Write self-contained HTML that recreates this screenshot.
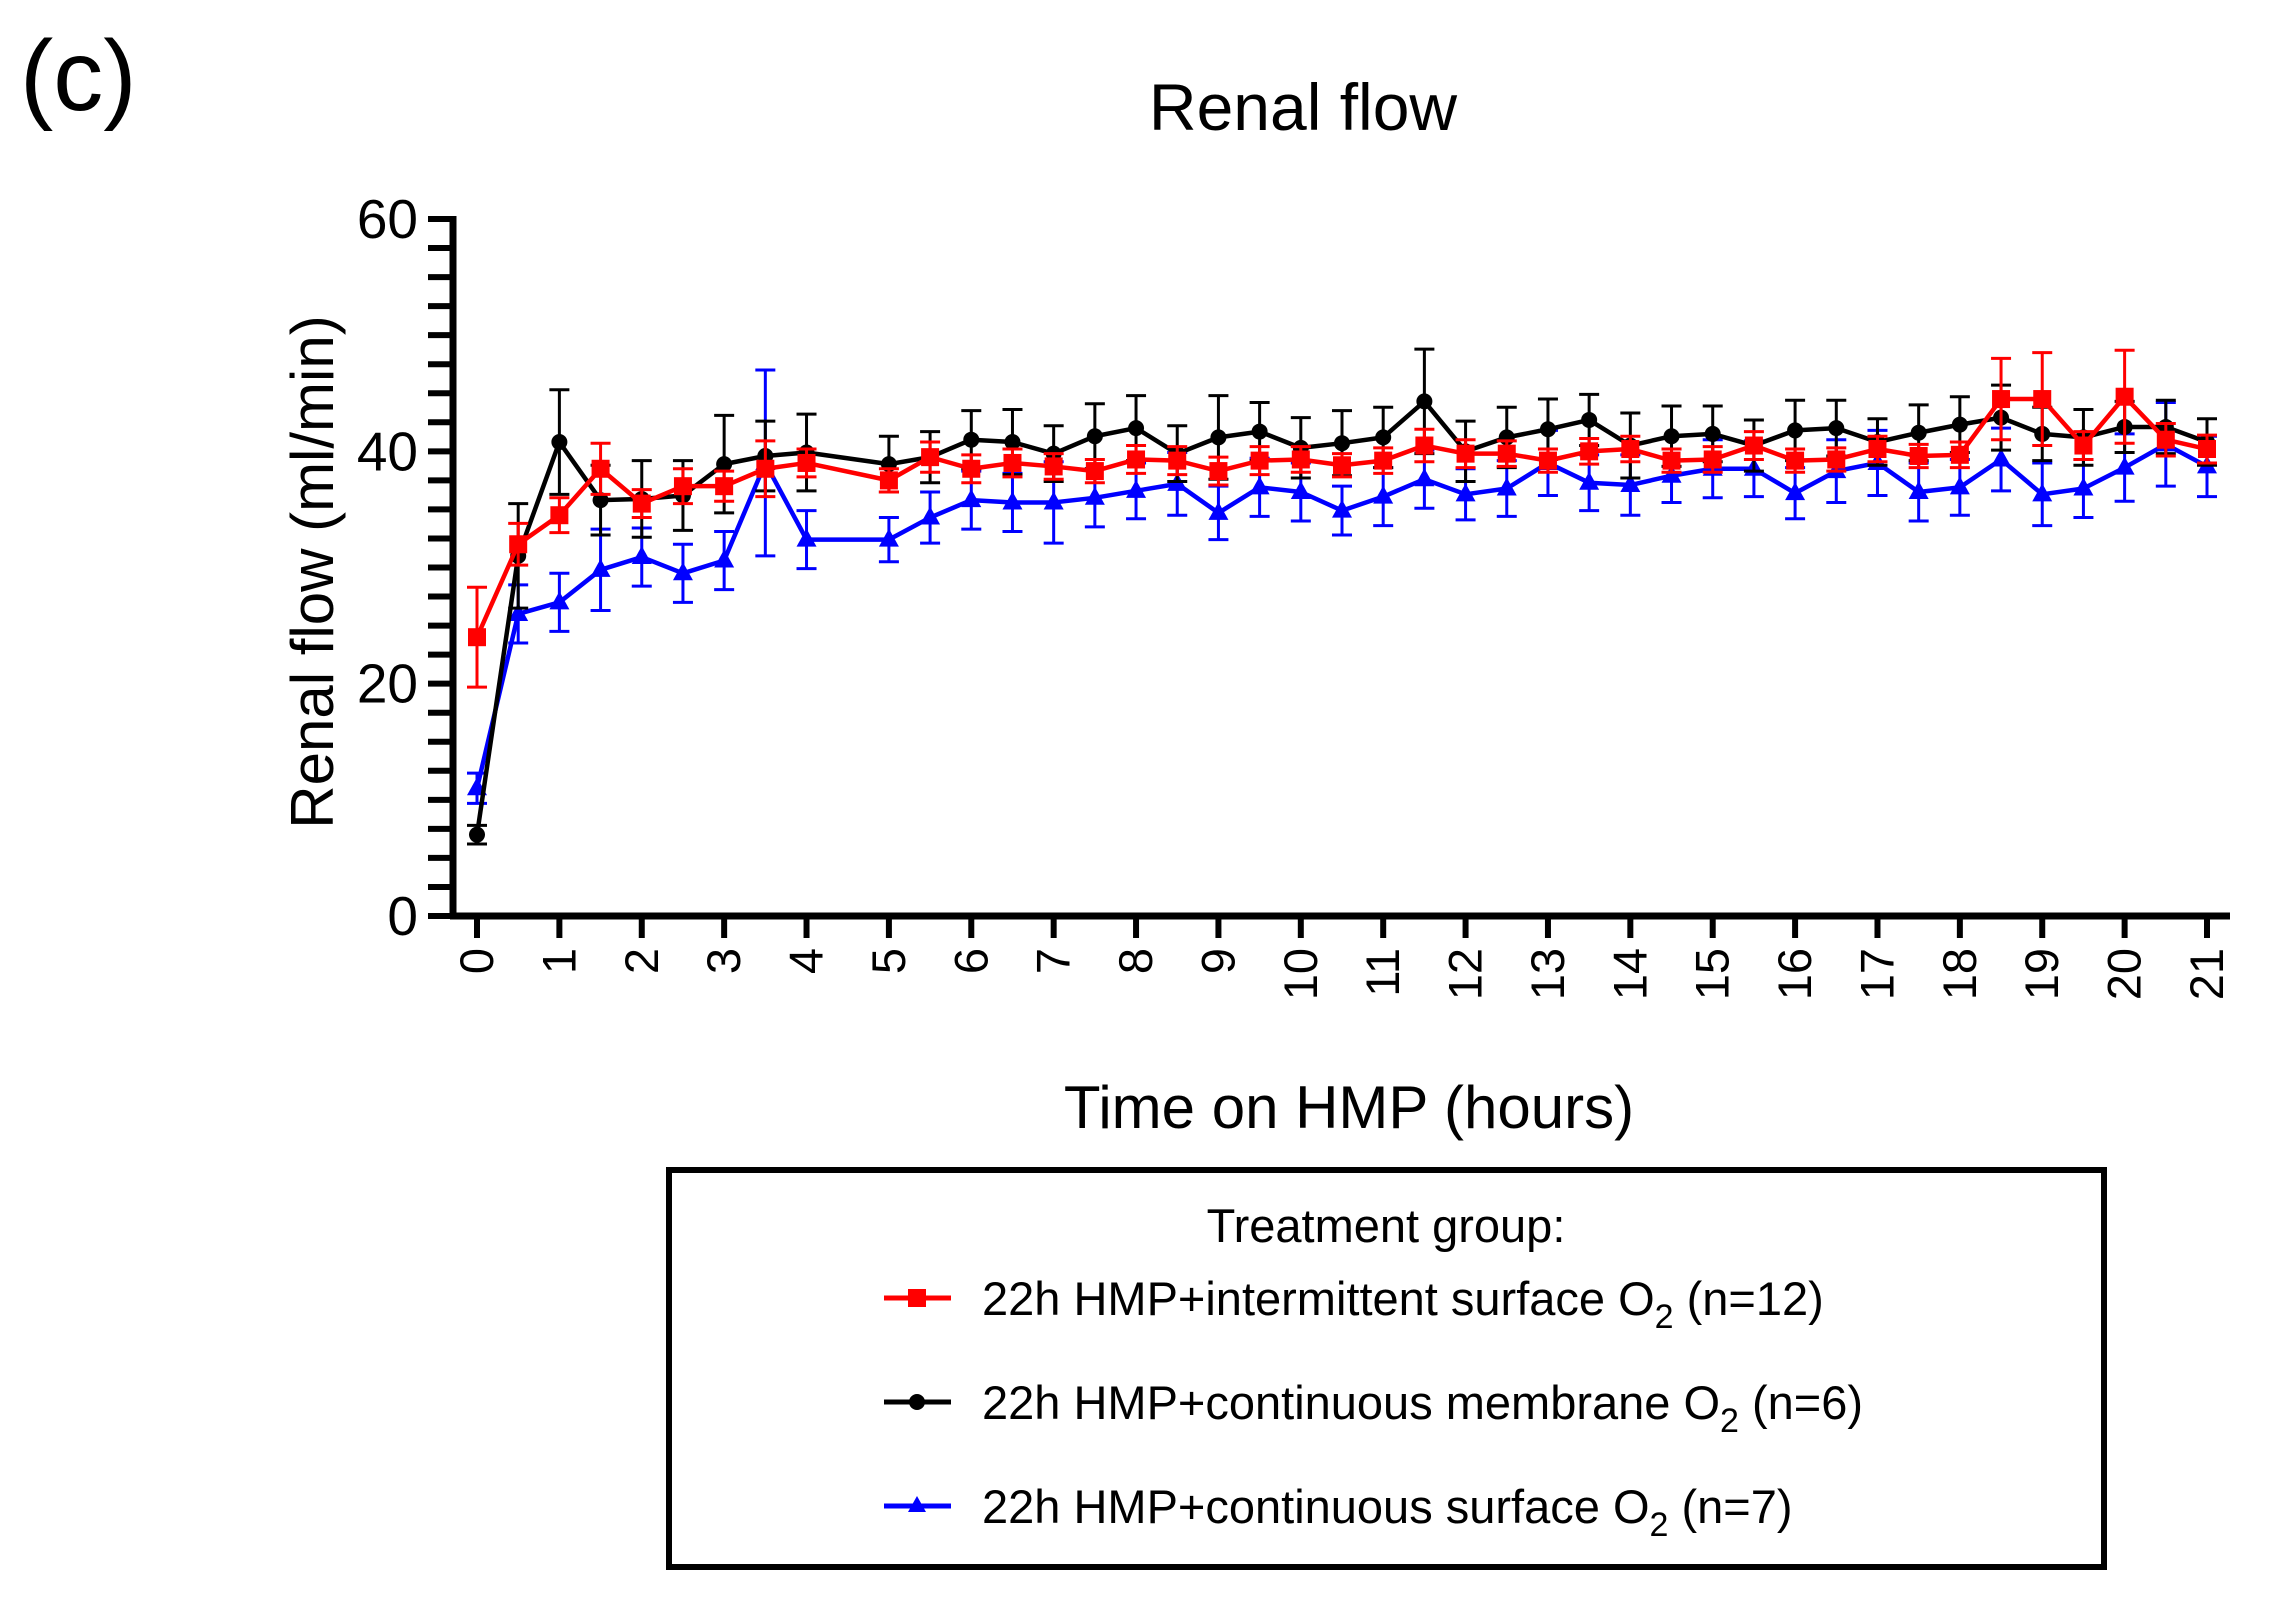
<!DOCTYPE html>
<html><head><meta charset="utf-8"><style>
html,body{margin:0;padding:0;background:#fff;}
svg{display:block;font-family:"Liberation Sans",Arial,sans-serif;}
</style></head><body>
<svg id="chart" width="2275" height="1610" viewBox="0 0 2275 1610">
<text x="20" y="110" font-size="100">(c)</text>
<text x="1303" y="130" font-size="66" text-anchor="middle">Renal flow</text>
<text transform="translate(333,572) rotate(-90)" font-size="60" text-anchor="middle">Renal flow (ml/min)</text>
<text x="1349" y="1128" font-size="60" text-anchor="middle">Time on HMP (hours)</text>
<g id="axes"></g>
<g id="series"></g>
<rect x="669" y="1170" width="1435" height="397" fill="none" stroke="#000" stroke-width="6"/>
<text x="1386" y="1242" font-size="47" text-anchor="middle">Treatment group:</text>
<g>
<line x1="884" y1="1298" x2="951" y2="1298" stroke="#ff0000" stroke-width="5"/><rect x="908" y="1289" width="18" height="18" fill="#ff0000"/>
<text x="982" y="1315" font-size="47">22h HMP+intermittent surface O<tspan font-size="34" dy="13">2</tspan><tspan dy="-13"> (n=12)</tspan></text></g>
<g>
<line x1="884" y1="1402" x2="951" y2="1402" stroke="#000" stroke-width="5"/><circle cx="917" cy="1402" r="8" fill="#000"/>
<text x="982" y="1419" font-size="47">22h HMP+continuous membrane O<tspan font-size="34" dy="13">2</tspan><tspan dy="-13"> (n=6)</tspan></text></g>
<g>
<line x1="884" y1="1506" x2="951" y2="1506" stroke="#0000ff" stroke-width="5"/><polygon points="917,1496 926,1512 908,1512" fill="#0000ff"/>
<text x="982" y="1523" font-size="47">22h HMP+continuous surface O<tspan font-size="34" dy="13">2</tspan><tspan dy="-13"> (n=7)</tspan></text></g>
</svg>
<script>
const times = [0,0.5,1,1.5,2,2.5,3,3.5,4,5,5.5,6,6.5,7,7.5,8,8.5,9,9.5,10,10.5,11,11.5,12,12.5,13,13.5,14,14.5,15,15.5,16,16.5,17,17.5,18,18.5,19,19.5,20,20.5,21];
const redMean = [24,32,34.5,38.5,35.5,37,37,38.5,39,37.5,39.5,38.5,39,38.7,38.3,39.3,39.2,38.3,39.2,39.3,38.8,39.2,40.5,39.8,39.8,39.2,40,40.2,39.2,39.3,40.5,39.2,39.3,40.2,39.6,39.7,44.5,44.5,40.5,44.7,41,40.2];
const redErr = [4.3,1.8,1.5,2.2,1.2,1.5,1.3,2.4,1.2,1,1.3,1.2,1.2,1.1,1,1.2,1.2,1.2,1.2,1.1,1,1.1,1.4,1.2,1.1,1,1.1,1.1,1,1.1,1.2,1,1,1.1,1,1.1,3.5,4,1.2,4,1.4,1.2];
const blackMean = [7,31,40.8,35.8,35.9,36.2,38.9,39.6,39.9,38.9,39.5,41,40.8,39.8,41.3,42,39.8,41.2,41.7,40.3,40.7,41.2,44.3,40,41.2,41.9,42.7,40.5,41.3,41.5,40.5,41.8,42,40.8,41.6,42.3,42.9,41.5,41.2,42.1,42.1,40.8];
const blackErr = [0.8,4.5,4.5,3,3.3,3,4.2,3,3.3,2.4,2.2,2.5,2.8,2.4,2.8,2.8,2.4,3.6,2.5,2.6,2.8,2.6,4.5,2.6,2.6,2.6,2.2,2.8,2.6,2.4,2.2,2.6,2.4,2,2.4,2.4,2.8,2.3,2.4,2.2,2.3,2];
const blueMean = [11,26,27,29.8,30.9,29.5,30.6,39,32.4,32.4,34.3,35.8,35.6,35.6,36,36.6,37.2,34.7,36.9,36.5,34.9,36.1,37.6,36.3,36.8,39,37.3,37.1,37.9,38.5,38.5,36.4,38.3,39,36.5,36.9,39.3,36.3,36.8,38.6,40.6,38.7];
const blueErr = [1.3,2.5,2.5,3.5,2.5,2.5,2.5,8,2.5,1.9,2.2,2.5,2.5,3.5,2.5,2.4,2.7,2.3,2.5,2.5,2.1,2.5,2.5,2.2,2.4,2.8,2.4,2.6,2.3,2.5,2.4,2.2,2.7,2.8,2.5,2.4,2.7,2.7,2.5,2.9,3.6,2.6];
const yTicks = [0,20,40,60];
const xTicks = [0,1,2,3,4,5,6,7,8,9,10,11,12,13,14,15,16,17,18,19,20,21];

const NS = "http://www.w3.org/2000/svg";
const X0 = 477, X1 = 2207, Y0 = 916, Y1 = 219;
function xs(t){ return X0 + (X1 - X0) * t / 21; }
function ys(v){ return Y0 - (Y0 - Y1) * v / 60; }
function mk(tag, attrs, parent){ const e = document.createElementNS(NS, tag); for (const k in attrs) e.setAttribute(k, attrs[k]); parent.appendChild(e); return e; }

const axes = document.getElementById('axes');
const yAxis = mk('line', {x1:453,y1:Y1-3,x2:453,y2:Y0+3,stroke:'#000','stroke-width':7}, axes);


const xAxis = mk('line', {x1:450,y1:Y0,x2:2230,y2:Y0,stroke:'#000','stroke-width':7}, axes);


for (let v = 0; v <= 60; v += 2.5) {
  const tk = mk('line', {x1:428,y1:ys(v),x2:453,y2:ys(v),stroke:'#000','stroke-width':6}, axes);
  
  
}
yTicks.forEach(v => {
  const t = mk('text', {x:418,y:ys(v)+19,'font-size':55,'text-anchor':'end'}, axes);
  t.textContent = v;
  
  
});
xTicks.forEach(v => {
  const tk = mk('line', {x1:xs(v),y1:Y0,x2:xs(v),y2:Y0+22,stroke:'#000','stroke-width':6}, axes);
  
  
  const t = mk('text', {transform:`translate(${xs(v)+16},${Y0+32}) rotate(-90)`,'font-size':47,'text-anchor':'end'}, axes);
  t.textContent = v;
  
  
});

const series = document.getElementById('series');
function draw(mean, err, color, shape, name) {
  const g = mk('g', {}, series);
  
  
  mean.forEach((m, i) => {
    const x = xs(times[i]);
    const e = mk('path', {d:`M${x},${ys(m-err[i])}V${ys(m+err[i])}M${x-10},${ys(m-err[i])}H${x+10}M${x-10},${ys(m+err[i])}H${x+10}`,stroke:color,'stroke-width':3,fill:'none'}, g);
    
    
  });
  const line = mk('polyline', {points: mean.map((m,i)=>xs(times[i])+','+ys(m)).join(' '),fill:'none',stroke:color,'stroke-width':4.5,'stroke-linejoin':'round'}, g);
  
  
  mean.forEach((m, i) => {
    const x = xs(times[i]), y = ys(m);
    let p;
    if (shape === 'square') p = mk('rect', {x:x-9,y:y-9,width:18,height:18,fill:color}, g);
    else if (shape === 'circle') p = mk('circle', {cx:x,cy:y,r:8,fill:color}, g);
    else p = mk('polygon', {points:`${x},${y-11} ${x+10},${y+7} ${x-10},${y+7}`,fill:color}, g);
    
    
  });
}
draw(blueMean, blueErr, '#0000ff', 'triangle', 'series-continuous-surface');
draw(blackMean, blackErr, '#000000', 'circle', 'series-continuous-membrane');
draw(redMean, redErr, '#ff0000', 'square', 'series-intermittent-surface');
</script>
</body></html>
